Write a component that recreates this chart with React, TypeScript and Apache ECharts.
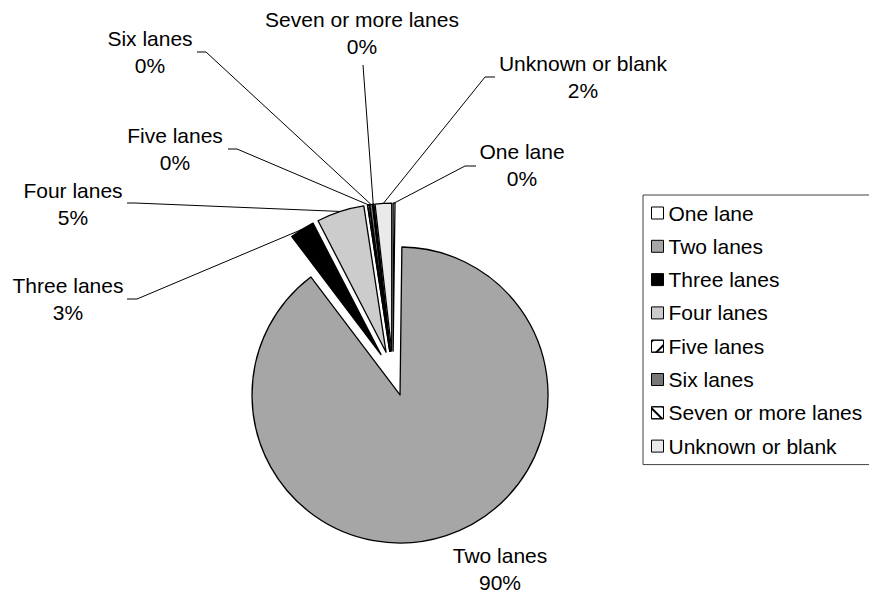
import React, { useEffect, useRef } from 'react';
import * as echarts from 'echarts';

// Share of records by number of lanes (percent)
const categories = [
  'One lane',
  'Two lanes',
  'Three lanes',
  'Four lanes',
  'Five lanes',
  'Six lanes',
  'Seven or more lanes',
  'Unknown or blank',
];
const shares = [0.2, 89.5, 2.7, 5.2, 0.2, 0.3, 0.1, 1.8];

const fills = ['#ffffff', '#a6a6a6', '#000000', '#cccccc', '#ffffff', '#777777', '#ffffff', '#eaeaea'];

// Hatched fills for a couple of categories
const hatches: Record<number, any> = {
  4: {
    symbol: 'rect',
    symbolSize: 1,
    dashArrayX: [1, 0],
    dashArrayY: [1.2, 9],
    rotation: -Math.PI / 4,
    color: '#000000',
    backgroundColor: '#ffffff',
  },
  6: {
    symbol: 'rect',
    symbolSize: 1,
    dashArrayX: [1, 0],
    dashArrayY: [1.2, 7],
    rotation: Math.PI / 4,
    color: '#000000',
    backgroundColor: '#ffffff',
  },
};

// Where each label block sits, and where its leader line bends and stops
const labelSpots: { x: number; y: number; elbow?: number[]; end?: number[] }[] = [
  { x: 522, y: 165, elbow: [465, 166], end: [476, 166] },
  { x: 500, y: 569 },
  { x: 68, y: 298.5, elbow: [137, 299], end: [127, 299] },
  { x: 73, y: 204, elbow: [135, 203], end: [127, 203] },
  { x: 175, y: 149, elbow: [237, 149], end: [228, 149] },
  { x: 150, y: 52, elbow: [206, 52], end: [197, 52] },
  { x: 362, y: 32.5, elbow: [363, 65], end: [363, 65] },
  { x: 583, y: 76.5, elbow: [485, 77], end: [495, 77] },
];

const CENTER = [393, 373.6];
const RADIUS = 148;
const EXPLODE = 22.5;
const FONT = '"Liberation Sans", Arial, Helvetica, sans-serif';

export default function App() {
  const ref = useRef<HTMLDivElement>(null);

  useEffect(() => {
    if (!ref.current) return;
    const chart = echarts.init(ref.current, undefined, { renderer: 'svg' });

    // Exploded slices
    const sliceData = categories.map((name, i) => ({
      name,
      value: shares[i],
      selected: true,
      itemStyle: {
        color: fills[i],
        borderColor: '#000',
        borderWidth: 1.3,
        ...(hatches[i] ? { decal: hatches[i] } : {}),
      },
    }));

    // Same values again, carrying only the labels and leader lines
    const labelData = categories.map((name, i) => ({
      name,
      value: shares[i],
      ...(labelSpots[i].elbow ? {} : { labelLine: { show: false } }),
    }));

    chart.setOption({
      animation: false,
      backgroundColor: '#ffffff',
      legend: {
        orient: 'vertical',
        left: 643,
        top: 195,
        padding: [7.5, 30, 8, 8],
        itemWidth: 12,
        itemHeight: 12,
        itemGap: 12.3,
        icon: 'rect',
        selectedMode: false,
        borderColor: '#404040',
        borderWidth: 1,
        borderRadius: 0,
        itemStyle: { borderColor: '#000', borderWidth: 1 },
        textStyle: {
          fontFamily: FONT,
          fontSize: 21,
          lineHeight: 21,
          color: '#000',
        },
        data: categories,
      },
      series: [
        {
          type: 'pie',
          name: 'slices',
          center: CENTER,
          radius: RADIUS,
          startAngle: 90,
          clockwise: true,
          selectedMode: 'multiple',
          selectedOffset: EXPLODE,
          emphasis: { disabled: true },
          select: {
            itemStyle: { borderColor: '#000', borderWidth: 1.3 },
          },
          label: { show: false },
          labelLine: { show: false },
          data: sliceData,
        },
        {
          type: 'pie',
          name: 'labels',
          center: CENTER,
          radius: RADIUS,
          startAngle: 90,
          clockwise: true,
          silent: true,
          selectedMode: false,
          avoidLabelOverlap: false,
          emphasis: { disabled: true },
          itemStyle: { color: 'rgba(0,0,0,0)', borderWidth: 0 },
          label: {
            show: true,
            position: 'outside',
            fontFamily: FONT,
            fontSize: 21,
            lineHeight: 27,
            color: '#000',
            align: 'center',
            formatter: (p: any) => `${p.name}\n${Math.round(p.percent)}%`,
          },
          labelLine: {
            show: true,
            length: 10,
            length2: 10,
            lineStyle: { color: '#000', width: 1 },
          },
          labelLayout: (params: any) => {
            const spot = labelSpots[params.dataIndex];
            const out: any = {
              x: spot.x,
              y: spot.y,
              align: 'center',
              verticalAlign: 'middle',
            };
            const pts = params.labelLinePoints;
            if (spot.elbow && spot.end && pts && pts.length) {
              const p0 = pts[0];
              const vx = p0[0] - CENTER[0];
              const vy = p0[1] - CENTER[1];
              const len = Math.hypot(vx, vy) || 1;
              const reach = RADIUS + EXPLODE;
              out.labelLinePoints = [
                [CENTER[0] + (vx / len) * reach, CENTER[1] + (vy / len) * reach],
                [spot.elbow[0], spot.elbow[1]],
                [spot.end[0], spot.end[1]],
              ];
            }
            return out;
          },
          data: labelData,
        },
      ],
    });

    return () => chart.dispose();
  }, []);

  return (
    <div
      ref={ref}
      style={{ position: 'absolute', left: 0, top: 0, width: 869, height: 597 }}
    />
  );
}
